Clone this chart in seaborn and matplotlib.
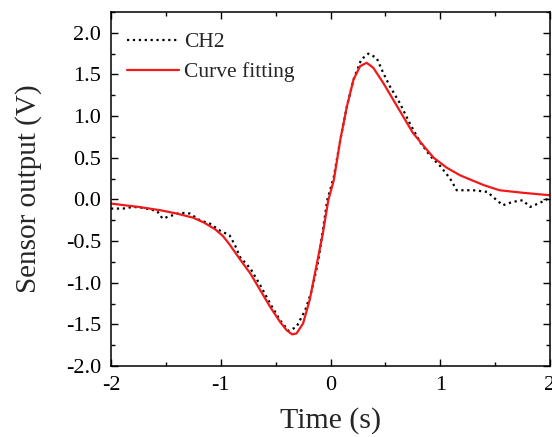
import numpy as np
import pandas as pd
import matplotlib
matplotlib.use("Agg")
import matplotlib.pyplot as plt
import seaborn as sns
from matplotlib.ticker import MultipleLocator

# Measured channel (CH2)
ch2_t = [-2.0, -1.89, -1.80, -1.71, -1.58, -1.53, -1.46, -1.37, -1.28, -1.19, -1.10, -1.00,
         -0.92, -0.87, -0.825, -0.73, -0.64, -0.55, -0.46, -0.38, -0.31, -0.23, -0.17,
         -0.11, -0.065, -0.03, 0.03, 0.09, 0.15, 0.21, 0.28, 0.345, 0.42, 0.48, 0.54,
         0.63, 0.72, 0.82, 0.91, 1.00, 1.09, 1.15, 1.24, 1.30, 1.43, 1.48, 1.57, 1.66,
         1.75, 1.82, 1.91, 2.0]
ch2_v = [-0.11, -0.11, -0.09, -0.10, -0.14, -0.23, -0.20, -0.16, -0.17, -0.25, -0.29, -0.38,
         -0.43, -0.55, -0.69, -0.83, -1.03, -1.25, -1.45, -1.58, -1.53, -1.33, -1.09,
         -0.73, -0.33, -0.01, 0.27, 0.72, 1.12, 1.44, 1.68, 1.75, 1.70, 1.52, 1.36,
         1.16, 0.92, 0.68, 0.52, 0.40, 0.25, 0.11, 0.11, 0.11, 0.09, 0.03, -0.07, -0.03,
         -0.01, -0.09, -0.04, 0.02]

# Fitted curve
fit_t = [-2.0, -1.75, -1.55, -1.40, -1.25, -1.15, -1.05, -0.98, -0.92, -0.83, -0.73, -0.64,
         -0.55, -0.46, -0.40, -0.35, -0.31, -0.25, -0.19, -0.13, -0.07, -0.02, 0.03, 0.09,
         0.15, 0.21, 0.27, 0.33, 0.39, 0.48, 0.57, 0.66, 0.75, 0.85, 0.94, 1.06, 1.18,
         1.27, 1.40, 1.54, 1.75, 2.0]
fit_v = [-0.05, -0.09, -0.13, -0.17, -0.22, -0.28, -0.36, -0.44, -0.54, -0.71, -0.89, -1.09,
         -1.29, -1.47, -1.57, -1.62, -1.61, -1.49, -1.21, -0.81, -0.41, -0.01, 0.23, 0.72,
         1.12, 1.44, 1.60, 1.64, 1.58, 1.40, 1.20, 1.00, 0.80, 0.64, 0.50, 0.38, 0.29,
         0.24, 0.17, 0.11, 0.08, 0.05]

x_ticks = [-2, -1, 0, 1, 2]
y_ticks = [-2.0, -1.5, -1.0, -0.5, 0.0, 0.5, 1.0, 1.5, 2.0]

sns.set_style("ticks")
plt.rcParams['font.family'] = ['Liberation Serif', 'DejaVu Serif']
plt.rcParams['axes.unicode_minus'] = False

fig = plt.figure(figsize=(5.52, 4.37), dpi=100)
ax = fig.add_axes([111 / 552, 1 - 366 / 437, 439 / 552, 354 / 437])

df_ch2 = pd.DataFrame({"t": ch2_t, "v": ch2_v})
df_fit = pd.DataFrame({"t": fit_t, "v": fit_v})

sns.lineplot(data=df_ch2, x="t", y="v", ax=ax, color="black", linestyle=":",
             linewidth=1.6, label="CH2", sort=False)
sns.lineplot(data=df_fit, x="t", y="v", ax=ax, color="#f01a1a", linestyle="-",
             linewidth=1.6, label="Curve fitting", sort=False)

ax.set_xlim(-2, 2)
ax.set_ylim(-2, 2.25)
ax.set_xticks(x_ticks)
ax.set_xticklabels([str(v) for v in x_ticks])
ax.set_yticks(y_ticks)
ax.set_yticklabels([f"{v:.1f}" for v in y_ticks])
ax.xaxis.set_minor_locator(MultipleLocator(0.5))
ax.yaxis.set_minor_locator(MultipleLocator(0.25))

ax.tick_params(which="both", direction="in", top=True, right=True, width=1.0,
               labelsize=16, colors="black", pad=7)
ax.tick_params(which="major", length=5)
ax.tick_params(which="minor", length=3)
for s in ax.spines.values():
    s.set_linewidth(1.1)
    s.set_color("black")

ax.set_xlabel("Time (s)", fontsize=21.5, labelpad=9)
ax.set_ylabel("Sensor output (V)", fontsize=21, labelpad=17)

leg = ax.legend(loc="upper left", frameon=False, fontsize=15.5, handlelength=2.4,
                handletextpad=0.25, borderaxespad=0.0, labelspacing=0.45,
                bbox_to_anchor=(0.017, 0.967))

fig.savefig("out.png", dpi=100)
